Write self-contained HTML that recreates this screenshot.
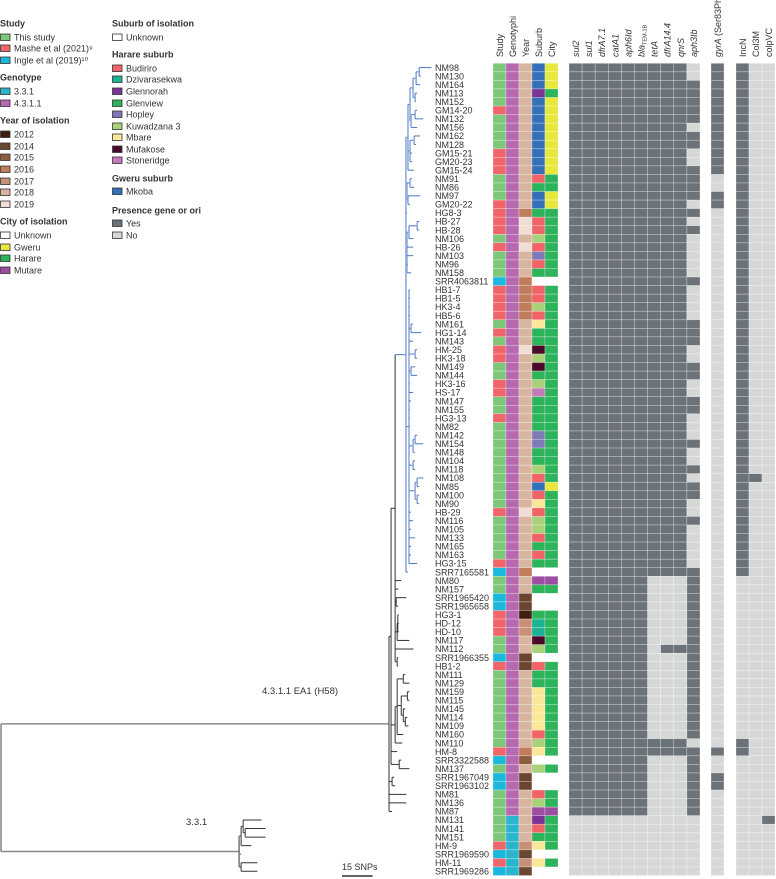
<!DOCTYPE html>
<html><head><meta charset="utf-8"><style>
html,body{margin:0;padding:0;background:#fff;}
svg{display:block;font-family:"Liberation Sans",sans-serif;}
</style></head><body>
<svg id="fig" width="776" height="879" viewBox="0 0 776 879" xmlns="http://www.w3.org/2000/svg">
<g id="legend" font-size="9" fill="#333"></g>
<g id="tree"></g>
<g id="labels" font-size="9" fill="#333"></g>
<g id="heat"></g>
<g id="headers" font-size="9" fill="#333"></g>
<text x="262" y="694" font-size="9.5" fill="#333">4.3.1.1 EA1 (H58)</text>
<text x="186" y="825" font-size="9.5" fill="#333">3.3.1</text>
<text x="342" y="870" font-size="9" fill="#333">15 SNPs</text>
</svg>
<script>
// ---------- data ----------
const rowNames = ["NM98","NM130","NM164","NM113","NM152","GM14-20","NM132","NM156","NM162","NM128","GM15-21","GM20-23","GM15-24","NM91","NM86","NM97","GM20-22","HG8-3","HB-27","HB-28","NM106","HB-26","NM103","NM96","NM158","SRR4063811","HB1-7","HB1-5","HK3-4","HB5-6","NM161","HG1-14","NM143","HM-25","HK3-18","NM149","NM144","HK3-16","HS-17","NM147","NM155","HG3-13","NM82","NM142","NM154","NM148","NM104","NM118","NM108","NM85","NM100","NM90","HB-29","NM116","NM105","NM133","NM165","NM163","HG3-15","SRR7165581","NM80","NM157","SRR1965420","SRR1965658","HG3-1","HD-12","HD-10","NM117","NM112","SRR1966355","HB1-2","NM111","NM129","NM159","NM115","NM145","NM114","NM109","NM160","NM110","HM-8","SRR3322588","NM137","SRR1967049","SRR1963102","NM81","NM136","NM87","NM131","NM141","NM151","HM-9","SRR1969590","HM-11","SRR1969286"];
const rowYears = [2018,2018,2018,2018,2018,2018,2018,2018,2018,2018,2018,2018,2018,2018,2018,2018,2018,2016,2019,2019,2018,2019,2018,2018,2018,2016,2016,2016,2016,2016,2018,2018,2018,2019,2018,2018,2018,2018,2018,2018,2018,2018,2018,2018,2018,2018,2018,2018,2018,2018,2018,2018,2019,2018,2018,2018,2018,2018,2018,2016,2018,2018,2014,2014,2012,2017,2017,2018,2018,2014,2014,2018,2018,2018,2018,2018,2018,2018,2018,2018,2016,2015,2018,2014,2014,2018,2018,2018,2018,2018,2018,2017,2014,2017,2014];
const rowSuburbs = ["Mk","Mk","Mk","Gn","Mk","Mk","Mk","Mk","Mk","Mk","Mk","Mk","Mk","Bu","Gv","Mk","Mk","Gv","Bu","Bu","Ku","Bu","Ho","Bu","Gv","U","Bu","Bu","Ku","Bu","Mb","Gv","Gv","Mu","Ku","Mu","Gv","Ku","St","Gv","Gv","Gv","Gv","Ho","Ho","Gv","Gv","Ku","Bu","Mk","Bu","Mb","Bu","Ku","Ku","Bu","Gv","Bu","Gv","U","Mt","Gv","U","U","Gv","Dz","Dz","Mu","Ku","U","Bu","Gv","Gv","Mb","Mb","Mb","Mb","Mb","Bu","Ku","Mb","U","Ku","U","U","Bu","Ku","Mt","Gn","Bu","Gv","Mb","U","Mb","U"];
const genotype331Rows = [88,89,90,91,92,93,94];
const geneNames = ["sul2","sul1","dfrA7.1","catA1","aph6Id","bla","tetA","dfrA14.4","qnrS","aph3Ib"];
const genePresence = [
 [[0,87]],[[0,87]],[[0,87]],[[0,87]],[[0,87]],[[0,87]],
 [[0,59],[79,80]],
 [[0,59],[68,68],[79,80]],
 [[0,59],[68,68],[79,80]],
 [[2,6],[8,9],[12,15],[17,17],[19,19],[25,25],[30,32],[35,36],[39,40],[44,44],[47,47],[49,50],[53,53],[59,78],[80,87]]
];
const gyrAPresence = [[0,12],[15,16],[80,80],[83,84]];
const plasmidNames = ["IncN","Col3M","colpVC"];
const plasmidPresence = [[[0,59],[79,80]],[[48,48]],[[88,88]]];
const U = "(((((NM98:6,NM130:1):1.5,NM164:2):1.5,(NM113:1,NM152:0.5):1):1.5,((GM14-20:1,NM132:4):2,NM156:3):0.5):1,((NM162:3,NM128:1):2,GM15-21:1,GM20-23:1):1,GM15-24:3):1";
const V = "((NM91:1,NM86:2):1.5,(NM97:6,GM20-22:1):0.5):0.5";
const W = "(((HB-27:1,HB-28:1):4,NM106:2):1,HB-26:3,NM103:3,NM96:0.5,NM158:2):0.5";
const X = "(HB1-7:0.5,HB1-5:0.5,HK3-4:0.5,HB5-6:0.5,(NM161:1,HG1-14:5):1,NM143:2,(HM-25:1,HK3-18:1):3,(NM149:2,NM144:3):1,HK3-16:0.5,HS-17:2,NM147:1,NM155:0.5,HG3-13:0.5,NM82:0.5,((NM142:1,NM154:4):1,NM148:1):2,(NM104:1,NM118:1):2,((NM108:3,NM85:1):1,(NM100:1,NM90:1):1):3,HB-29:1,NM116:2,NM105:1,NM133:3,NM165:1,NM163:1,HG3-15:4):1.5";
const BLUE = "(" + U + "," + V + ",HG8-3:0.5," + W + ",SRR4063811:0.3," + X + ",SRR7165581:1)BLUE:5.3";
const D = "(" + BLUE + ",NM80:3,NM157:1.5,(SRR1965420:5,SRR1965658:1):0.5,((HG3-1:0.5,HD-12:0.5,HD-10:0.5):0.3,NM117:6):1,NM112:9,(SRR1966355:0.5,HB1-2:0.5):1):2";
const E = "(((NM111:1,NM129:3):3,((NM159:1,NM115:1):3,(NM145:1,(NM114:1,NM109:1.5):1):1):2,NM160:3):1,NM110:3.5):2";
const B = "(" + D + "," + E + ",HM-8:3,(SRR3322588:1,NM137:5):4):1";
const A = "(" + B + ",(SRR1967049:1,SRR1963102:1.5):1.5,NM81:8.5,NM136:8.5,NM87:1.5):190.2";
const T3 = "(((NM131:9,(NM141:10,NM151:10):1):1,HM-9:5):1,SRR1969590:1,(HM-11:8,SRR1969286:8):1):116.7";
const newick = "(" + A + "," + T3 + ");";

// ---------- scales ----------
const NS = "http://www.w3.org/2000/svg";
const rowTop = i => 63.3 + 8.55 * i;
const rowH = 8.55;
const xSNP = s => 1 + s * 2.04;
function mk(tag, attrs, parent) {
  const e = document.createElementNS(NS, tag);
  for (const k in attrs) e.setAttribute(k, attrs[k]);
  parent.appendChild(e); return e;
}
const inSpans = (spans, i) => spans.some(s => i >= s[0] && i <= s[1]);

// ---------- legend ----------
const legend = document.getElementById('legend');
const legendCol1 = [
 ["t","Study",23],["i","#7dc67a","This study",37],["i","#f0656a","Mashe et al (2021)⁹",48],["i","#1ab8dc","Ingle et al (2019)¹⁰",60],
 ["t","Genotype",77],["i","#2ab5cc","3.3.1",91],["i","#b668b0","4.3.1.1",103],
 ["t","Year of isolation",120],["i","#3d1e10","2012",134],["i","#6b4530","2014",146],["i","#8b5e40","2015",157],["i","#c07d5c","2016",169],["i","#c99078","2017",181],["i","#d8b5a0","2018",192],["i","#f0ddd3","2019",204],
 ["t","City of isolation",221],["i","#ffffff","Unknown",235],["i","#e8e83c","Gweru",247],["i","#2db45a","Harare",258],["i","#9c4ea0","Mutare",270]];
const legendCol2 = [
 ["t","Suburb of isolation",23],["i","#ffffff","Unknown",37],
 ["t","Harare suburb",54],["i","#f06468","Budiriro",68],["i","#1ab394","Dzivarasekwa",79],["i","#7b3398","Glennorah",91],["i","#2db45a","Glenview",103],["i","#8079b8","Hopley",114],["i","#a8d17a","Kuwadzana 3",126],["i","#fbe79a","Mbare",137],["i","#4a0a2a","Mufakose",149],["i","#c27ab9","Stoneridge",160],
 ["t","Gweru suburb",178],["i","#3470b8","Mkoba",191],
 ["t","Presence gene or ori",210],["i","#6b7278","Yes",223],["i","#d6d8d8","No",235]];
function drawLegend(items, x0) {
  items.forEach(it => {
    if (it[0] === "t") {
      const t = mk('text', {x: x0, y: it[2] + 3.5, 'font-weight': 'bold'}, legend);
      
      
      t.textContent = it[1];
    } else {
      const r = mk('rect', {x: x0 + 0.5, y: it[3] - 3, width: 9.5, height: 6.5, fill: it[1], stroke: '#333', 'stroke-width': 0.8}, legend);
      
      
      const t = mk('text', {x: x0 + 14, y: it[3] + 3.5}, legend);
      
      
      t.textContent = it[2];
    }
  });
}
drawLegend(legendCol1, 0);
drawLegend(legendCol2, 112);

// ---------- tree ----------
function parse(s) {
  let p = 0;
  function node() {
    const n = {children: [], name: "", len: 0};
    if (s[p] === '(') {
      p++;
      n.children.push(node());
      while (s[p] === ',') { p++; n.children.push(node()); }
      p++;
    }
    let nm = "";
    while (p < s.length && !",():;".includes(s[p])) nm += s[p++];
    n.name = nm;
    if (s[p] === ':') {
      p++; let l = "";
      while (p < s.length && !",();".includes(s[p])) l += s[p++];
      n.len = parseFloat(l);
    }
    return n;
  }
  return node();
}
const root = parse(newick);
function layout(n, depth, blue) {
  n.depth = depth + n.len;
  n.blue = blue || n.name === "BLUE";
  if (n.children.length === 0) {
    const idx = rowNames.indexOf(n.name);
    n.y = rowTop(idx) + rowH / 2;
  } else {
    n.children.forEach(c => layout(c, n.depth, n.blue));
    n.y = (n.children[0].y + n.children[n.children.length - 1].y) / 2;
  }
}
layout(root, 0, false);
const treeG = document.getElementById('tree');
function drawNode(n, parentX) {
  const x = xSNP(n.depth);
  const col = n.blue ? "#4a78c0" : (parentX !== null && parentX < 240 ? "#8a8a8a" : "#333");
  if (parentX !== null) {
    const l = mk('line', {x1: parentX, y1: n.y, x2: x, y2: n.y, stroke: col, 'stroke-width': parentX < 240 ? 1.6 : 1}, treeG);
    
    
  }
  if (n.children.length) {
    const vcol = n.blue ? "#8fabdc" : (n === root ? "#8a8a8a" : "#333");
    const v = mk('line', {x1: x, y1: n.children[0].y, x2: x, y2: n.children[n.children.length - 1].y, stroke: vcol, 'stroke-width': n === root ? 1.6 : (n.blue ? 1.6 : 1)}, treeG);
    
    
    n.children.forEach(c => drawNode(c, x));
  }
}
drawNode(root, null);
const sb = mk('line', {x1: 342, y1: 876, x2: xSNP(15) + 341, y2: 876, stroke: '#333', 'stroke-width': 1.5}, treeG);



// ---------- labels ----------
const labelsG = document.getElementById('labels');
rowNames.forEach((nm, i) => {
  const t = mk('text', {x: 435, y: rowTop(i) + 7.5}, labelsG);
  
  
  t.textContent = nm;
});

// ---------- heatmap ----------
const heat = document.getElementById('heat');
const studyColor = nm => nm.startsWith("SRR") ? "#1ab8dc" : (nm.startsWith("NM") ? "#7dc67a" : "#f0656a");
const yearColor = {2012:"#3d1e10",2014:"#6b4530",2015:"#8b5e40",2016:"#c07d5c",2017:"#c99078",2018:"#d8b5a0",2019:"#f0ddd3"};
const suburbColor = {Mk:"#3470b8",Gn:"#7b3398",Bu:"#f06468",Gv:"#2db45a",Ku:"#a8d17a",Ho:"#8079b8",Mb:"#fbe79a",Mu:"#4a0a2a",St:"#c27ab9",Dz:"#1ab394",U:"#ffffff",Mt:"#9c4ea0"};
const cityColor = s => s === "U" ? "#ffffff" : (s === "Mk" ? "#e8e83c" : (s === "Mt" ? "#9c4ea0" : "#2db45a"));
const DARK = "#6b7278", LIGHT = "#d6d8d8";
function cell(x, i, w, fill, name) {
  const r = mk('rect', {x: x, y: rowTop(i), width: w, height: rowH, fill: fill, stroke: 'rgba(255,255,255,0.45)', 'stroke-width': 0.6}, heat);
  
  
}
rowNames.forEach((nm, i) => {
  cell(493, i, 13, studyColor(nm), 'study-cell');
  cell(506, i, 13, genotype331Rows.includes(i) ? "#2ab5cc" : "#b668b0", 'genotype-cell');
  cell(519, i, 13, yearColor[rowYears[i]], 'year-cell');
  cell(532, i, 13, suburbColor[rowSuburbs[i]], 'suburb-cell');
  cell(545, i, 13, cityColor(rowSuburbs[i]), 'city-cell');
  geneNames.forEach((g, k) => cell(569 + k * 13.1, i, 13.1, inSpans(genePresence[k], i) ? DARK : LIGHT, 'gene-cell-' + g));
  cell(711, i, 13, inSpans(gyrAPresence, i) ? DARK : LIGHT, 'gyra-cell');
  plasmidNames.forEach((p, k) => cell(736 + k * 13, i, 13, inSpans(plasmidPresence[k], i) ? DARK : LIGHT, 'plasmid-cell-' + p));
});

// ---------- headers ----------
const headers = document.getElementById('headers');
function header(cx, html, name) {
  const t = mk('text', {transform: 'translate(' + (cx + 3.5) + ',57) rotate(-90)'}, headers);
  
  
  t.innerHTML = html;
}
["Study","Genotyphi","Year","Suburb","City"].forEach((h, k) => header(493 + k * 13 + 6.5, h, 'header-' + h.toLowerCase()));
const geneHtml = ["<tspan font-style='italic'>sul2</tspan>","<tspan font-style='italic'>sul1</tspan>","<tspan font-style='italic'>dfrA7.1</tspan>","<tspan font-style='italic'>catA1</tspan>","<tspan font-style='italic'>aph6Id</tspan>","<tspan font-style='italic'>bla</tspan><tspan font-size='5.5' dy='2'>TEM-1B</tspan>","<tspan font-style='italic'>tetA</tspan>","<tspan font-style='italic'>dfrA14.4</tspan>","<tspan font-style='italic'>qnrS</tspan>","<tspan font-style='italic'>aph3Ib</tspan>"];
geneHtml.forEach((h, k) => header(569 + k * 13.1 + 6.5, h, 'header-' + geneNames[k].toLowerCase().replace('.', '-')));
header(717.5, "<tspan font-style='italic'>gyrA</tspan> (Ser83Phe)", 'header-gyra');
plasmidNames.forEach((p, k) => header(736 + k * 13 + 6.5, p, 'header-' + p.toLowerCase()));
</script>
</body></html>
